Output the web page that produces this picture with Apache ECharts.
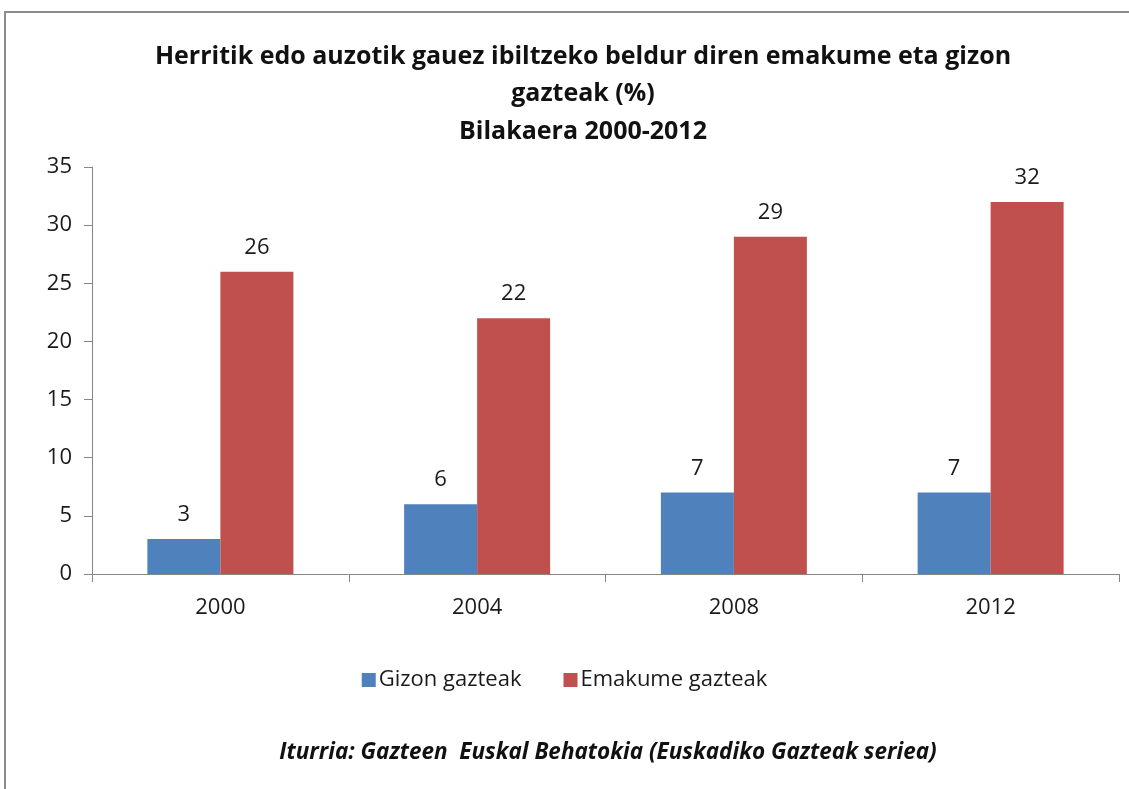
<!DOCTYPE html>
<html>
<head>
<meta charset="utf-8">
<script src="https://cdn.jsdelivr.net/npm/echarts@6/dist/echarts.min.js"></script>
<style>
  html, body { margin: 0; padding: 0; background: #fff; }
  #chart { width: 1129px; height: 789px; }
</style>
</head>
<body>
<div id="chart"></div>
<script>
// data
var years = ['2000', '2004', '2008', '2012']
var gizonValues = [3, 6, 7, 7]
var emakumeValues = [26, 22, 29, 32]
var seriesNames = ['Gizon gazteak', 'Emakume gazteak']
var titleText = 'Herritik edo auzotik gauez ibiltzeko beldur diren emakume eta gizon\ngazteak (%)\nBilakaera 2000-2012'
var sourceText = 'Iturria: Gazteen  Euskal Behatokia (Euskadiko Gazteak seriea)'

var font = '"Open Sans", Lato, sans-serif'
var textColor = '#1a1a1a'
var axisColor = '#868686'

var chart = echarts.init(document.getElementById('chart'), null, { renderer: 'canvas' })

chart.setOption({
  backgroundColor: '#fff',
  animation: false,
  graphic: [{
    type: 'rect',
    shape: { x: 5, y: 12, width: 1300, height: 900 },
    style: { fill: 'none', stroke: '#8c8c8c', lineWidth: 2 },
    silent: true
  }],
  title: [{
    text: titleText,
    left: 578,
    top: 33,
    textAlign: 'center',
    textStyle: {
      fontFamily: font,
      fontWeight: 'bold',
      fontSize: 25,
      lineHeight: 37.5,
      color: '#111'
    }
  }, {
    text: sourceText,
    left: 603,
    top: 736,
    textAlign: 'center',
    textStyle: {
      fontFamily: font,
      fontWeight: 'bold',
      fontStyle: 'italic',
      fontSize: 22.5,
      color: '#111'
    }
  }],
  legend: {
    data: seriesNames,
    left: 'center',
    top: 664,
    itemWidth: 14,
    itemHeight: 14,
    itemGap: 42,
    icon: 'rect',
    textStyle: { fontFamily: font, fontSize: 22, color: textColor, padding: [0, 0, 0, -2] }
  },
  grid: {
    left: 92,
    right: 10,
    top: 167,
    bottom: 215,
    containLabel: false
  },
  xAxis: {
    type: 'category',
    data: years,
    axisLine: { lineStyle: { color: axisColor, width: 1 } },
    axisTick: { show: true, length: 8, alignWithLabel: false, lineStyle: { color: axisColor } },
    axisLabel: { fontFamily: font, fontSize: 22, color: textColor, margin: 23 }
  },
  yAxis: {
    type: 'value',
    min: 0,
    max: 35,
    interval: 5,
    splitLine: { show: false },
    axisLine: { show: true, lineStyle: { color: axisColor, width: 1 } },
    axisTick: { show: true, length: 8, lineStyle: { color: axisColor } },
    axisLabel: { fontFamily: font, fontSize: 22, color: textColor, margin: 20 }
  },
  series: [{
    name: seriesNames[0],
    type: 'bar',
    data: gizonValues,
    barWidth: 73,
    barGap: '0%',
    itemStyle: { color: '#4f81bd' },
    label: {
      show: true,
      position: 'top',
      distance: 13,
      fontFamily: font,
      fontSize: 22,
      color: textColor
    }
  }, {
    name: seriesNames[1],
    type: 'bar',
    data: emakumeValues,
    barWidth: 73,
    barGap: '0%',
    itemStyle: { color: '#c0504d' },
    label: {
      show: true,
      position: 'top',
      distance: 13,
      fontFamily: font,
      fontSize: 22,
      color: textColor
    }
  }]
})
</script>
</body>
</html>
